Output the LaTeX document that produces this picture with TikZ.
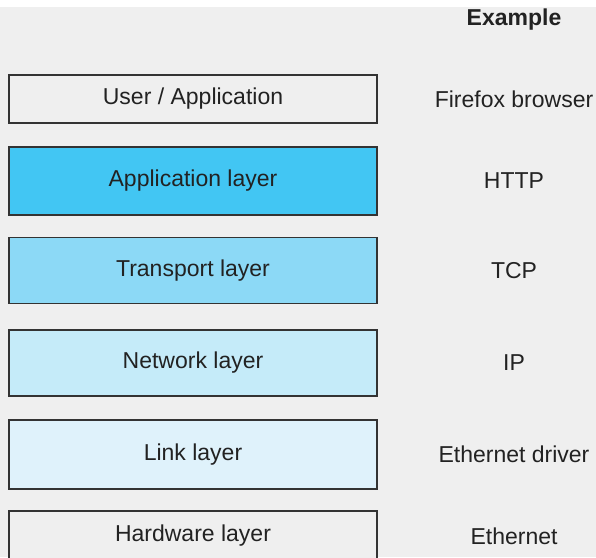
\documentclass[tikz,border=0pt]{standalone}
\usepackage{fontspec}
\setmainfont{Liberation Sans}
\usepackage{tikz}
\definecolor{bggray}{HTML}{EFEFEF}
\definecolor{appblue}{HTML}{42C6F3}
\definecolor{trpblue}{HTML}{8CD9F6}
\definecolor{netblue}{HTML}{C5EBF9}
\definecolor{lnkblue}{HTML}{DFF2FB}
\definecolor{txtgray}{HTML}{222222}
\newcommand*{\bxw}{368pt}
\newcommand*{\bxx}{193}
\newcommand*{\exx}{514}
\tikzset{
  layer/.style={draw=black!80, line width=1.2pt, minimum width=\bxw, inner sep=0pt, text=txtgray},
  example/.style={text=txtgray}
}
\begin{document}
\begin{tikzpicture}[x=1pt, y=-1pt, font=\fontsize{23}{26}\selectfont]
    \useasboundingbox (0,0) rectangle (596,557);
    \clip (0,0) rectangle (596,557);
    \fill [white] (0,0) rectangle (596,7);
    \fill [bggray] (0,7) rectangle (596,557);
        \node [example, font=\fontsize{23}{26}\selectfont\bfseries] (head) at (\exx,20) {Example};
        % layer boxes
        \node [layer, fill=bggray, minimum height=48pt] (user) at (\bxx,99) {User / Application};
        \node [layer, fill=appblue, minimum height=68pt] (app)  at (\bxx,181) {Application layer};
        \node [layer, fill=trpblue, minimum height=66pt] (trp)  at (\bxx,270.5) {Transport layer};
        \node [layer, fill=netblue, minimum height=66pt] (net)  at (\bxx,363) {Network layer};
        \node [layer, fill=lnkblue, minimum height=69pt] (lnk)  at (\bxx,454.5) {Link layer};
        \node [layer, fill=bggray, minimum height=56pt] (hw)   at (\bxx,539) {};
        \node [text=txtgray] (hwtxt) at (\bxx,536) {Hardware layer};
        % examples
        \node [example] (ffx) at (\exx,99) {Firefox browser};
        \node [example] (http) at (\exx,181) {HTTP};
        \node [example] (tcp) at (\exx,270.5) {TCP};
        \node [example] (ip) at (\exx,363) {IP};
        \node [example] (drv) at (\exx,454.5) {Ethernet driver};
        \node [example] (eth) at (\exx,536) {Ethernet};
    \end{tikzpicture}
\end{document}
